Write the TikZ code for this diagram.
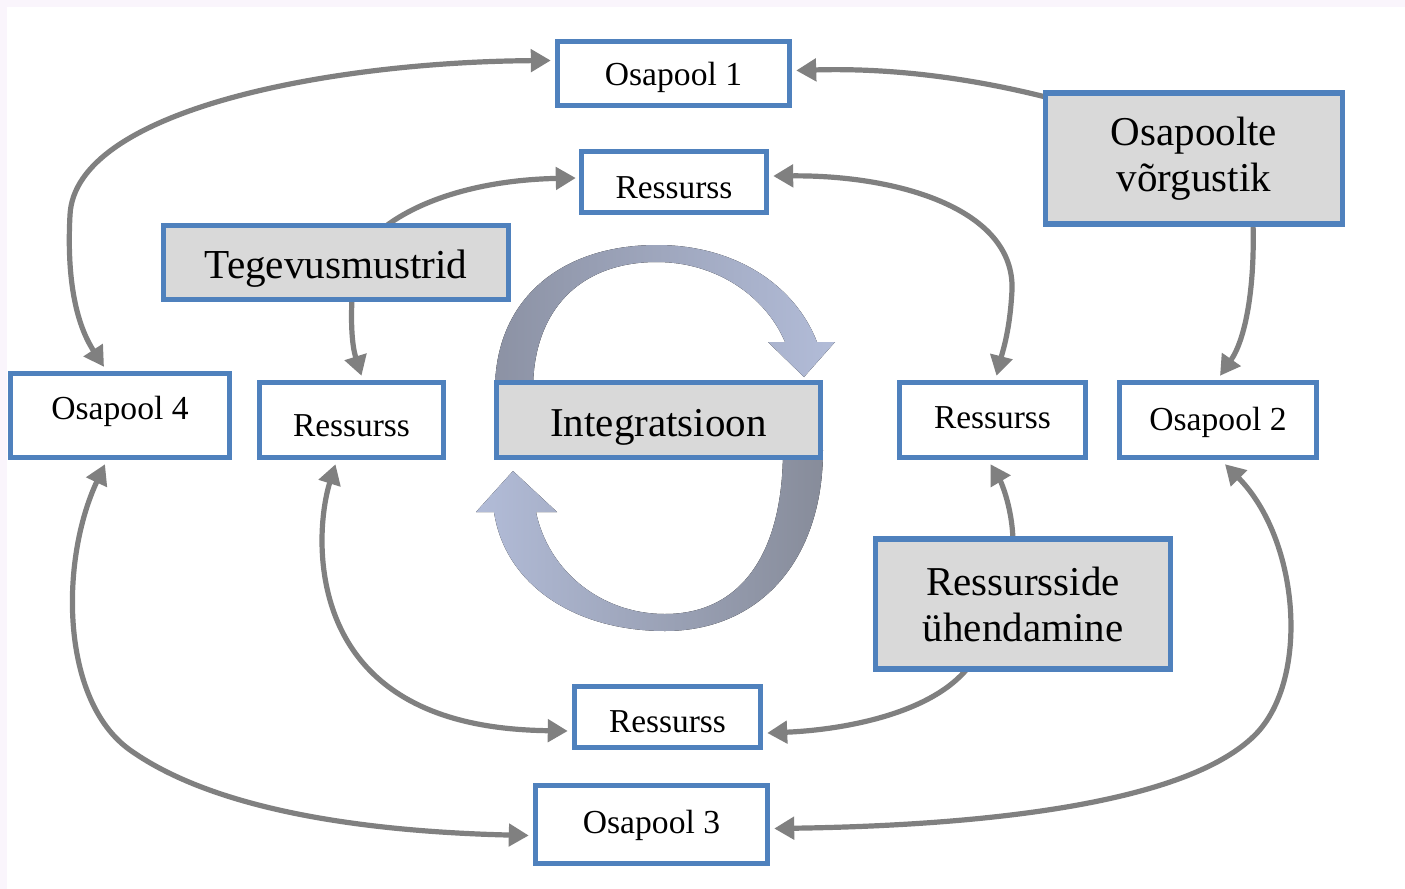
\documentclass[tikz,border=0pt]{standalone}
\usepackage{fontspec}
\setmainfont{Liberation Serif}
\usetikzlibrary{arrows.meta,calc}
\pgfdeclarelayer{back}
\pgfdeclarelayer{links}
\pgfsetlayers{back,links,main}
\definecolor{boxblue}{RGB}{79,129,189}
\definecolor{boxgray}{RGB}{217,217,217}
\definecolor{linkgray}{RGB}{128,128,128}
\definecolor{rim}{RGB}{250,245,252}
\definecolor{cycgray}{RGB}{140,146,164}
\definecolor{cycblue}{RGB}{146,180,240}
\definecolor{cyclav}{RGB}{178,188,216}
\definecolor{cycdark}{RGB}{135,140,154}

\begin{document}
\begin{tikzpicture}[x=0.5pt,y=-0.5pt,
  >={Triangle[length=10pt,width=11pt]},
  box/.style={draw=boxblue,line width=2.7pt,fill=white,inner sep=0pt,align=center},
  graybox/.style={box,fill=boxgray},
  base/.style={text height=#1,text depth=0pt},
  osa/.style={font=\fontsize{16.8}{20}\selectfont},
  res/.style={font=\fontsize{16.7}{20}\selectfont},
  big/.style={font=\fontsize{20.5}{23}\selectfont},
  link/.style={draw=linkgray,line width=2.6pt}]

\useasboundingbox (0,0) rectangle (1405,889);

% boxes
\node[box,osa,base=12pt,minimum width=116pt,minimum height=32pt] (o1) at (673.5,73.5) {Osapool 1};
\node[box,res,base=16pt,minimum width=92.5pt,minimum height=30.5pt] (rt) at (674,182) {Ressurss};
\node[graybox,big,minimum width=148.5pt,minimum height=65.5pt] (net) at (1194,158.5) {Osapoolte\\võrgustik};
\node[graybox,font=\fontsize{20.6}{24}\selectfont,base=15.6pt,minimum width=172.5pt,minimum height=37pt] (teg) at (336,262.5) {Tegevusmustrid};
\node[box,osa,base=4pt,minimum width=109.5pt,minimum height=42pt] (o4) at (120,415.5) {Osapool 4};
\node[box,res,base=16pt,minimum width=92pt,minimum height=37.5pt] (rl) at (351.5,420) {Ressurss};
\node[graybox,big,base=16.2pt,minimum width=162pt,minimum height=37.5pt] (integ) at (658.5,420) {Integratsioon};
\node[box,res,base=8pt,minimum width=93pt,minimum height=37.5pt] (rr) at (992.5,420) {Ressurss};
\node[box,osa,base=10pt,minimum width=98.5pt,minimum height=37.5pt] (o2) at (1218,420) {Osapool 2};
\node[graybox,big,minimum width=147.5pt,minimum height=65pt] (uhend) at (1023,604) {Ressursside\\ühendamine};
\node[box,res,base=15pt,minimum width=93pt,minimum height=30.5pt] (rb) at (667.5,717) {Ressurss};
\node[box,osa,base=9pt,minimum width=116pt,minimum height=39pt] (o3) at (651.5,824.5) {Osapool 3};

% page ground with its thin tinted rim
\begin{pgfonlayer}{back}
  \fill[rim] (0,0) rectangle (1405,889);
  \fill[white] (7,7) rectangle (1405,889);
\end{pgfonlayer}

\begin{pgfonlayer}{links}
  % the integration cycle
  \fill[left color=cycgray,middle color=cycblue,right color=cyclav]
    (495,390) .. controls (495,300) and (560,245) .. (657,245)
    .. controls (735,245) and (795,285) .. (817,342)
    -- (835,342) -- (804,377) -- (768,342) -- (785,342)
    .. controls (765,295) and (715,262) .. (657,262)
    .. controls (580,262) and (533,310) .. (533,390) -- cycle;
  \fill[left color=cyclav,middle color=cycblue,right color=cycdark]
    (823,450) .. controls (823,560) and (760,631) .. (665,631)
    .. controls (575,631) and (505,585) .. (494,512)
    -- (476,512) -- (513,471) -- (557,512) -- (536,512)
    .. controls (548,570) and (600,614) .. (665,614)
    .. controls (740,614) and (783,555) .. (783,450) -- cycle;

  % connectors between the parties
  \draw[link,<->] ($(o1.west)+(-4,-13)$) .. controls (330,62) and (75,110) .. (70,215)
    .. controls (66,290) and (80,330) .. ($(o4.north)+(-16,-4)$);
  \draw[link,->] ($(net.north west)+(8,8)$) .. controls (960,75) and (880,68) .. ($(o1.east)+(4,-3)$);
  \draw[link,->] ($(net.south)+(59,-4)$) .. controls (1255,290) and (1245,340) .. ($(o2.north)+(2,-4)$);
  \draw[link,<->] ($(o4.south)+(-15,4)$) .. controls (60,560) and (60,700) .. (130,750)
    .. controls (220,814) and (380,832) .. ($(o3.west)+(-4,11)$);
  \draw[link,<->] ($(o2.south)+(7,4)$) .. controls (1300,540) and (1310,680) .. (1255,735)
    .. controls (1180,810) and (950,826) .. ($(o3.east)+(4,4)$);

  % connectors between the resources
  \draw[link,->] ($(teg.north)+(49,4)$) .. controls (420,200) and (480,180) .. ($(rt.west)+(-3,-4)$);
  \draw[link,->] ($(teg.south)+(16,-4)$) .. controls (350,340) and (355,355) .. ($(rl.north)+(10,-4)$);
  \draw[link,<->] ($(rt.east)+(4,-6)$) .. controls (900,175) and (1015,210) .. (1012,290)
    .. controls (1010,330) and (1003,350) .. ($(rr.north)+(4,-4)$);
  \draw[link,->] ($(uhend.north)+(-10,4)$) .. controls (1012,505) and (1000,480) .. ($(rr.south)+(-2,4)$);
  \draw[link,->] ($(uhend.south)+(-55,-4)$) .. controls (930,715) and (840,730) .. ($(rb.east)+(4,16)$);
  \draw[link,<->] ($(rl.south)+(-16,4)$) .. controls (318,520) and (310,620) .. (380,680)
    .. controls (430,723) and (500,730) .. ($(rb.west)+(-4,14)$);
\end{pgfonlayer}
\end{tikzpicture}
\end{document}
